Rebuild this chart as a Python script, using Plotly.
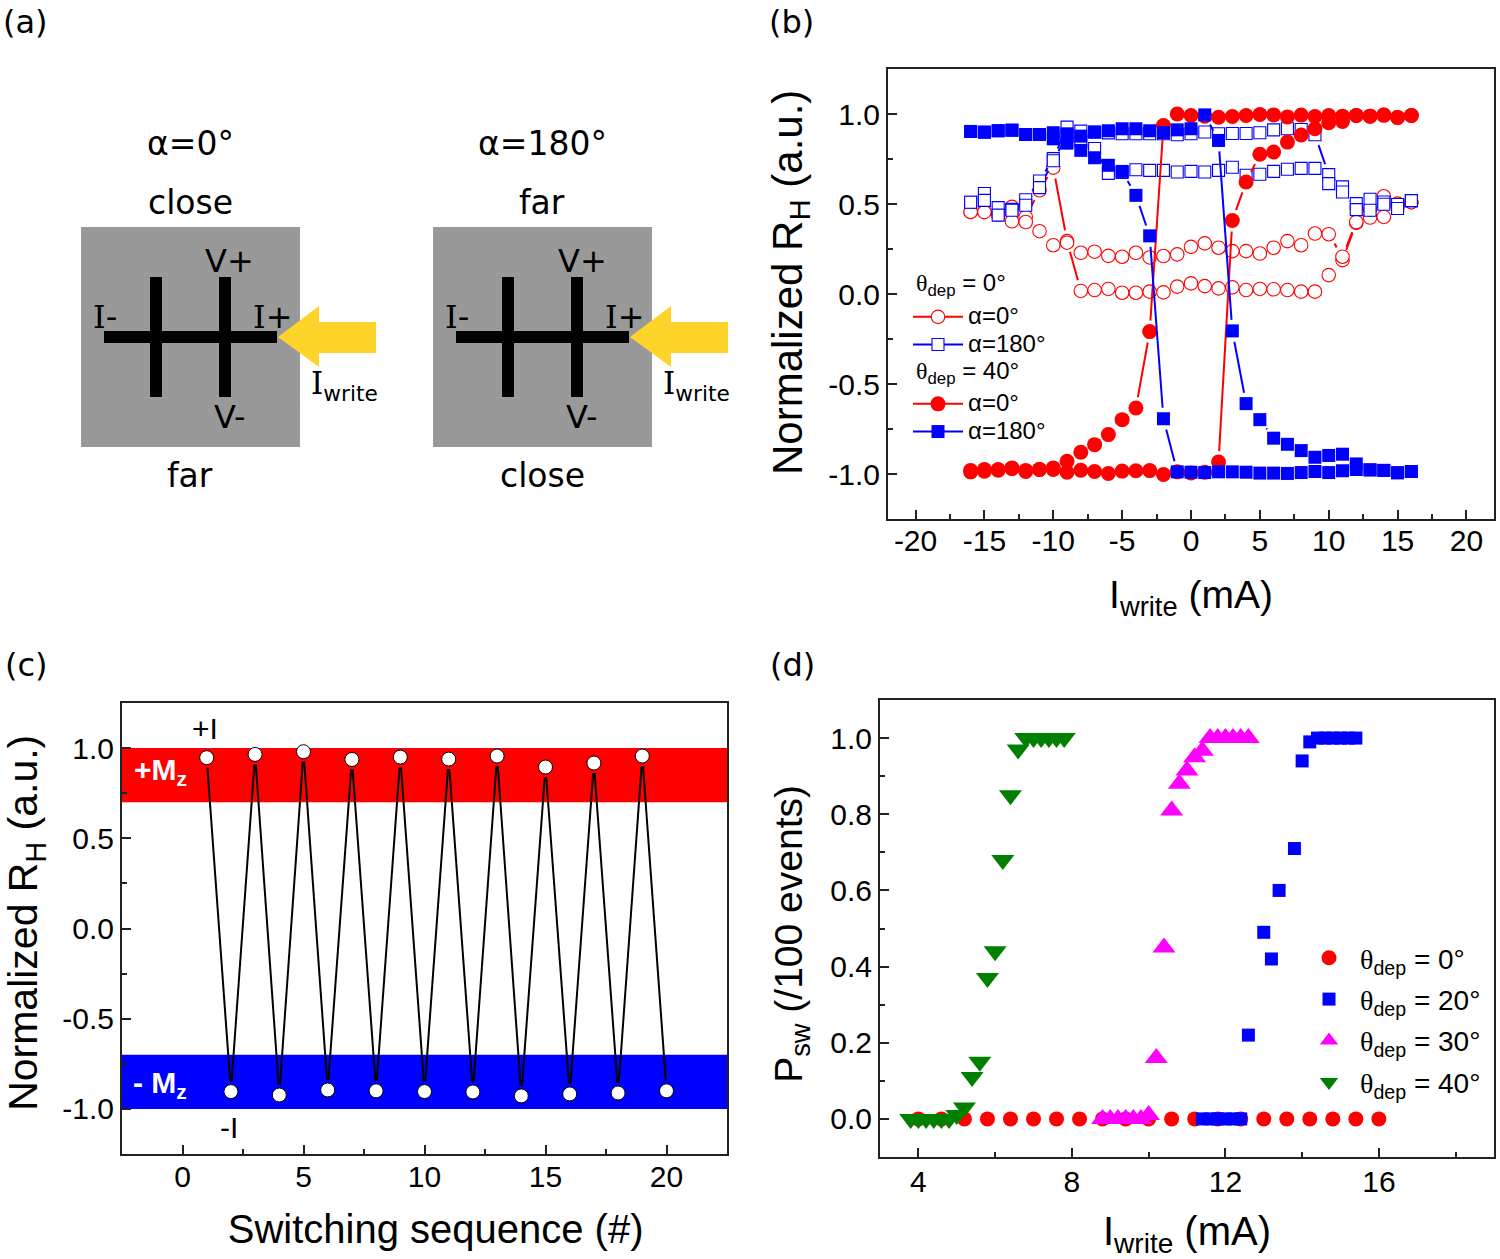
import math
import plotly.graph_objects as go

W, H = 1500, 1259

# ---------- panel (b) data ----------
b_currents = list(range(-16, 17))
b_open_red_up = [.456,.46,.447,.484,.428,.576,.702,.294,.017,.022,.028,.007,.007,.013,.009,.041,.059,.044,.031,.037,.022,.028,.026,.022,.013,.013,.105,.188,.395,.425,.428,.49,.51]
b_open_red_down = [.456,.455,.44,.404,.40,.349,.271,.285,.229,.235,.212,.207,.229,.203,.211,.22,.262,.281,.257,.238,.238,.225,.257,.294,.271,.336,.332,.207,.40,.469,.543,.502,.51]
b_open_blue_up = [.51,.558,.48,.47,.524,.628,.752,.927,.905,.90,.895,.89,.89,.89,.89,.885,.89,.90,.89,.892,.892,.896,.912,.918,.914,.885,.663,.595,.502,.526,.511,.497,.519]
b_open_blue_down = [.51,.52,.438,.465,.493,.591,.74,.88,.85,.808,.67,.675,.69,.687,.687,.678,.681,.678,.687,.704,.66,.665,.681,.693,.698,.698,.613,.567,.469,.465,.499,.475,.519]
b_fill_red_up = [-.988,-.975,-.979,-.966,-.986,-.975,-.975,-.99,-.979,-.986,-.997,-.984,-.982,-.981,-1.003,-.988,-.994,-.99,-.934,.408,.622,.776,.789,.844,.883,.918,.951,.958,.992,.988,.994,.981,.992]
b_fill_red_down = [-.98,-.985,-.975,-.97,-.98,-.975,-.966,-.929,-.879,-.837,-.781,-.698,-.633,-.209,.936,1.0,.992,.988,.982,.986,.992,.997,.995,.984,.994,.986,.992,.988,.992,.988,.994,.981,.992]
b_fill_blue_up = [.903,.899,.907,.91,.886,.886,.896,.89,.877,.899,.907,.918,.918,.907,.896,.912,.918,.995,.853,-.205,-.609,-.698,-.801,-.835,-.87,-.907,-.897,-.89,-.944,-.977,-.98,-.993,-.986]
b_fill_blue_down = [.903,.899,.907,.91,.886,.886,.862,.838,.798,.757,.715,.681,.548,.323,-.693,-.988,-.99,-.992,-.988,-.988,-.99,-.995,-.995,-.997,-.992,-.986,-.992,-.982,-.975,-.977,-.98,-.993,-.986]

# ---------- panel (c) data ----------
c_sequence = list(range(1, 21))
c_values = [.947,-.904,.965,-.923,.98,-.895,.937,-.90,.95,-.904,.939,-.906,.956,-.928,.895,-.917,.917,-.912,.956,-.90]
c_band_plus = [0.7, 1.0]
c_band_minus = [-1.0, -0.7]

# ---------- panel (d) data ----------
d_x_0 = [4,4.6,5.2,5.8,6.4,7,7.6,8.2,8.8,9.4,10,10.6,11.2,11.8,12.4,13,13.6,14.2,14.8,15.4,16]
d_y_0 = [0]*21
d_x_20 = [11.4,11.6,11.8,12,12.2,12.4,12.6,13,13.2,13.4,13.8,14,14.2,14.4,14.6,14.8,15,15.2,15.4]
d_y_20 = [0,0,0,0,0,0,.22,.49,.42,.60,.71,.94,.99,1,1,1,1,1,1]
d_x_30 = [8.8,9,9.2,9.4,9.6,9.8,10,10.2,10.4,10.6,10.8,11,11.2,11.4,11.6,11.8,12,12.2,12.4,12.6]
d_y_30 = [0,0,0,0,0,0,.01,.16,.45,.81,.88,.915,.95,.967,1,1,1,1,1,1]
d_x_40 = [3.8,4,4.2,4.4,4.6,4.8,5,5.2,5.4,5.6,5.8,6,6.2,6.4,6.6,6.8,7,7.2,7.4,7.6,7.8]
d_y_40 = [0,0,0,0,0,0,.01,.03,.11,.15,.37,.44,.68,.85,.97,1,1,1,1,1,1]

# ---------- tick labels ----------
b_xticks = [-20,-15,-10,-5,0,5,10,15,20]
b_yticks = [-1,-.5,0,.5,1]
b_ylabels = ["-1.0","-0.5","0.0","0.5","1.0"]
c_xticks = [0,5,10,15,20]
d_xticks = [4,8,12,16]
d_yticks = [0,.2,.4,.6,.8,1]
d_ylabels = ["0.0","0.2","0.4","0.6","0.8","1.0"]

RED, BLUE, MAGENTA, GREEN = "#FF0000", "#0000FF", "#FF00FF", "#008000"
AXIS = "#222222"
ARIAL = "Liberation Sans, Arial, sans-serif"
VERD = "DejaVu Sans, Verdana, sans-serif"
THETA = '<span style="font-family:Liberation Serif">θ</span><sub>dep</sub>'
SERIF_I = '<span style="font-family:DejaVu Serif">I</span>'

def pad(n): return "<span>" + "\u00a0" * n + "</span>"
def fx(p): return p / W
def fy(p): return 1 - p / H
def big(s): return f'<span style="font-size:24px">{s}</span>'

# Pixel scale of each panel, used to leave a gap between a line and its markers
B_SX, B_SY = 13.77, 180.0
C_SX, C_SY = 24.2, 180.4
GAP = 11

def gapped(xs, ys, sx, sy, gap=GAP):
    lx, ly = [], []
    for x1, y1, x2, y2 in zip(xs, ys, xs[1:], ys[1:]):
        length = math.hypot((x2 - x1) * sx, (y2 - y1) * sy)
        if length <= 2 * gap:
            continue
        t = gap / length
        lx += [x1 + (x2 - x1) * t, x2 - (x2 - x1) * t, None]
        ly += [y1 + (y2 - y1) * t, y2 - (y2 - y1) * t, None]
    return lx, ly

fig = go.Figure()
loop = b_currents + b_currents[::-1]

def add_b(up, down, color, symbol, size, filled, name, legend):
    ys = up + down[::-1]
    lx, ly = gapped(loop, ys, B_SX, B_SY)
    line = dict(color=color, width=2)
    marker = dict(symbol=symbol, size=size, color=color if filled else "white",
                  line=dict(color=color, width=0 if filled else 1.1))
    fig.add_trace(go.Scatter(x=lx, y=ly, mode="lines", line=line, xaxis="x", yaxis="y",
                             showlegend=False, hoverinfo="skip"))
    fig.add_trace(go.Scatter(x=loop, y=ys, mode="markers", marker=marker, xaxis="x", yaxis="y",
                             showlegend=False, hoverinfo="skip"))
    fig.add_trace(go.Scatter(x=[None], y=[None], mode="lines+markers", name=big(name), line=line, marker=marker,
                             xaxis="x", yaxis="y", legend=legend, showlegend=True, hoverinfo="skip"))

add_b(b_open_red_up, b_open_red_down, RED, "circle", 13.5, False, "α=0°", "legend")
add_b(b_open_blue_up, b_open_blue_down, BLUE, "square", 12, False, "α=180°", "legend")
add_b(b_fill_red_up, b_fill_red_down, RED, "circle", 15, True, "α=0°", "legend2")
add_b(b_fill_blue_up, b_fill_blue_down, BLUE, "square", 13, True, "α=180°", "legend2")

c_lx, c_ly = gapped(c_sequence, c_values, C_SX, C_SY, 10)
fig.add_trace(go.Scatter(x=c_lx, y=c_ly, mode="lines", line=dict(color="black", width=2),
    xaxis="x2", yaxis="y2", showlegend=False, hoverinfo="skip"))
fig.add_trace(go.Scatter(x=c_sequence, y=c_values, mode="markers",
    marker=dict(symbol="circle", size=14, color="white", line=dict(color="black", width=1)),
    xaxis="x2", yaxis="y2", showlegend=False, hoverinfo="skip"))

for xs, ys, col, sym, sz, deg in [
    (d_x_0, d_y_0, RED, "circle", 15, "0"),
    (d_x_20, d_y_20, BLUE, "square", 13, "20"),
    (d_x_30, d_y_30, MAGENTA, "triangle-up", 20, "30"),
    (d_x_40, d_y_40, GREEN, "triangle-down", 20, "40")]:
    fig.add_trace(go.Scatter(x=xs, y=ys, mode="markers", name=f"{THETA} = {deg}°",
        marker=dict(symbol=sym, size=sz, color=col, line=dict(width=0)),
        xaxis="x3", yaxis="y3", legend="legend3", legendgroup=deg, hoverinfo="skip"))

def axis(rng, tickvals, ticktext, minor, title, standoff, tfont, label_shift=0):
    return dict(range=rng, tickmode="array",
        tickvals=tickvals, ticktext=ticktext, ticks="inside", ticklen=9, tickwidth=2,
        tickcolor=AXIS, showline=True, mirror=True, linecolor=AXIS, linewidth=2,
        showgrid=False, zeroline=False, tickfont=dict(family=ARIAL, size=30, color="black"),
        ticklabelstandoff=label_shift,
        minor=dict(dtick=minor, tick0=0, ticks="inside", ticklen=5, tickwidth=2, tickcolor=AXIS, showgrid=False),
        title=dict(text=title, font=dict(family=ARIAL, size=tfont, color="black"), standoff=standoff))

def xax(left, right, *k, **kw):
    return dict(domain=[fx(left), fx(right)], **axis(*k, **kw))
def yax(top, bottom, *k, **kw):
    return dict(domain=[fy(bottom), fy(top)], **axis(*k, **kw))

RH = "Normalized R<sub>H</sub> (a.u.)"
IW = "I<sub>write</sub> (mA)"
shapes, ann = [], []

# panel (c) bands
for band, col in ((c_band_plus, RED), (c_band_minus, BLUE)):
    shapes.append(dict(type="rect", xref="x2 domain", yref="y2", x0=0, x1=1, y0=band[0], y1=band[1],
                       fillcolor=col, line=dict(width=0), layer="below"))

# panel (a) schematic
for dx in (0, 352):
    def rect(x0, y0, x1, y1, col):
        shapes.append(dict(type="rect", xref="paper", yref="paper", x0=fx(x0+dx), x1=fx(x1+dx),
                           y0=fy(y1), y1=fy(y0), fillcolor=col, line=dict(width=0)))
    rect(81, 227, 300, 447, "#999999")
    rect(150, 277, 162, 397, "black")
    rect(219, 277, 231, 397, "black")
    rect(104, 331, 277, 343, "black")
    pts = [(278,337),(319,306),(319,322),(376,322),(376,353),(319,353),(319,367)]
    path = "M " + " L ".join(f"{fx(a+dx):.5f},{fy(b):.5f}" for a, b in pts) + " Z"
    shapes.append(dict(type="path", xref="paper", yref="paper", path=path, fillcolor="#FFD42A", line=dict(width=0)))

def text(s, x, y, size=33, family=VERD, color="black", anchor="center"):
    ann.append(dict(text=s, xref="paper", yref="paper", x=fx(x), y=fy(y), xanchor=anchor, yanchor="middle",
                    showarrow=False, font=dict(family=family, size=size, color=color)))

for dx, top, head, bottom in ((0, "close", "α=0°", "far"), (352, "far", "α=180°", "close")):
    text(head, 190+dx, 144)
    text(top, 190+dx, 203)
    text(bottom, 190+dx, 475)
    text("V+", 230+dx, 261, 32)
    text("V-", 230+dx, 417, 32)
    text(f"{SERIF_I}-", 104.5+dx, 317, 32)
    text(f"{SERIF_I}+", 272+dx, 317, 32)
    text(f"{SERIF_I}<sub>write</sub>", 344+dx, 385, 31)

text("(a)", 25, 22, 32); text("(b)", 791, 22, 32); text("(c)", 26, 665, 32); text("(d)", 793, 665, 32)
text("+I", 205, 728, 30, ARIAL)
text("-I", 229, 1127, 30, ARIAL)
text("<b>+M<sub>z</sub></b>", 160, 771, 30, ARIAL, "white")
text("<b>- M<sub>z</sub></b>", 160, 1084, 30, ARIAL, "white")
text(f"{THETA} = 0°", 914, 285, 24, ARIAL, anchor="left")
text(f"{THETA} = 40°", 914, 372, 24, ARIAL, anchor="left")

leg = dict(bgcolor="rgba(0,0,0,0)", borderwidth=0, xanchor="left", yanchor="top", itemwidth=50,
           font=dict(family=ARIAL, size=19, color="black"), itemclick=False)

fig.update_layout(
    width=W, height=H, margin=dict(l=0, r=0, t=0, b=0), paper_bgcolor="white", plot_bgcolor="white",
    hovermode=False,
    xaxis=dict(**xax(888, 1494, [-22, 22], b_xticks, [str(v) for v in b_xticks], 2.5, IW, 25, 39, label_shift=-6), anchor="y"),
    yaxis=dict(**yax(69, 519, [-1.25, 1.25], b_yticks, b_ylabels, .25, pad(2) + RH, 13, 42), anchor="x"),
    xaxis2=dict(**xax(122, 727, [-2.5, 22.5], c_xticks, [str(v) for v in c_xticks], 2.5, pad(2) + "Switching sequence (#)", 23, 40, label_shift=-5), anchor="y2"),
    yaxis2=dict(**yax(703, 1154, [-1.25, 1.25], b_yticks, b_ylabels, .25, pad(1) + RH, 16, 41), anchor="x2"),
    xaxis3=dict(**xax(880, 1494, [3, 19], d_xticks, [str(v) for v in d_xticks], 2, IW, 22, 40, label_shift=-3), anchor="y3"),
    yaxis3=dict(**yax(700, 1157, [-.1, 1.1], d_yticks, d_ylabels, .1, "P<sub>sw</sub> (/100 events)" + pad(1), 16, 39), anchor="x3"),
    legend=dict(**leg, x=fx(908), y=fy(298)),
    legend2=dict(**leg, x=fx(908), y=fy(385)),
    legend3=dict(bgcolor="rgba(0,0,0,0)", xanchor="left", yanchor="top", x=fx(1298), y=fy(933), itemwidth=52,
                 tracegroupgap=2, font=dict(family=ARIAL, size=28, color="black"), itemclick=False),
    shapes=shapes, annotations=ann)

fig.write_html("out.html", config=dict(displayModeBar=False),
               post_script="document.body.style.margin='0';document.documentElement.style.overflow='hidden';")
